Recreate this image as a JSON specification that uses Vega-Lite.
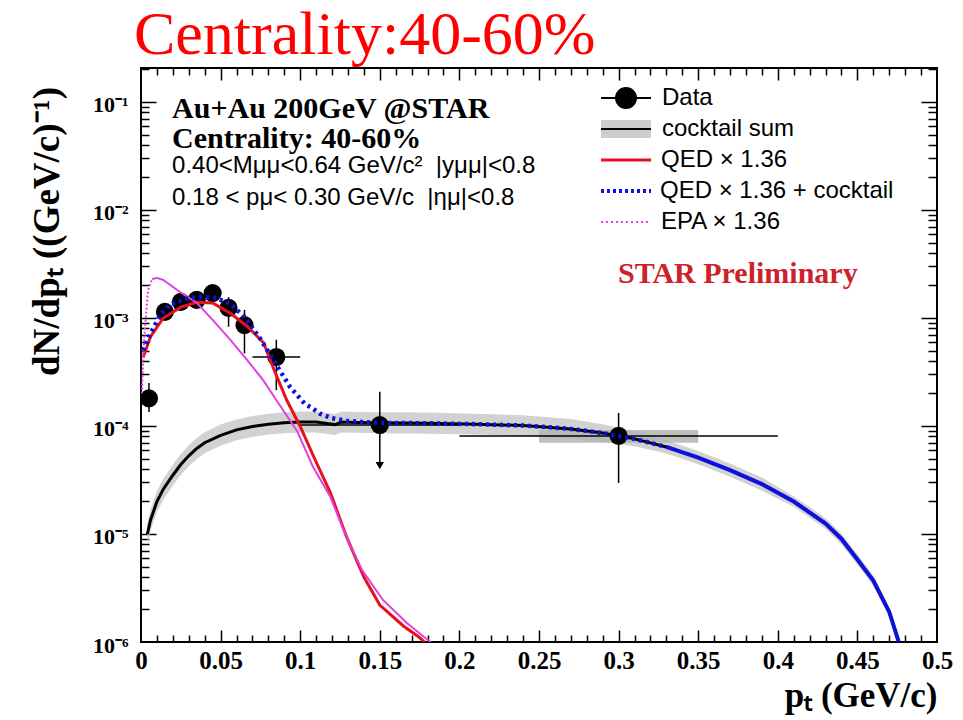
{
  "$schema": "https://vega.github.io/schema/vega-lite/v6.json",
  "width": 796,
  "height": 574,
  "autosize": "none",
  "padding": {"left": 141, "top": 68, "right": 26, "bottom": 78},
  "background": "white",
  "title": {"text": "Centrality:40-60%", "anchor": "start", "frame": "group", "font": "Liberation Serif", "fontSize": 62, "fontWeight": "normal", "color": "#ff0000", "offset": 4, "dx": -7, "dy": 53, "baseline": "alphabetic"},
  "config": {
    "view": {"stroke": "black", "strokeWidth": 2},
    "axis": {"domain": false, "grid": false, "labelFont": "Liberation Serif", "labelFontWeight": "bold", "labelColor": "black", "tickColor": "black", "tickWidth": 1.5, "titleFont": "Liberation Serif", "titleFontWeight": "bold", "titleColor": "black", "labelOverlap": false, "labelFlush": false},
    "legend": {"orient": "none", "title": null, "padding": 0, "labelFont": "Liberation Sans", "labelFontSize": 24, "labelColor": "black", "labelLimit": 0, "symbolSize": 400, "symbolOpacity": 1, "legendX": 473}
  },
  "datasets": {
    "curves": [
      {"s": "c", "pt": 0.004, "v": 1.0e-5, "lo": 8.0e-6, "hi": 1.25e-5},
      {"s": "c", "pt": 0.006, "v": 1.35e-5, "lo": 1.08e-5, "hi": 1.69e-5},
      {"s": "c", "pt": 0.010, "v": 2.0e-5, "lo": 1.6e-5, "hi": 2.5e-5},
      {"s": "c", "pt": 0.014, "v": 2.6e-5, "lo": 2.08e-5, "hi": 3.25e-5},
      {"s": "c", "pt": 0.020, "v": 3.5e-5, "lo": 2.8e-5, "hi": 4.38e-5},
      {"s": "c", "pt": 0.025, "v": 4.4e-5, "lo": 3.52e-5, "hi": 5.5e-5},
      {"s": "c", "pt": 0.030, "v": 5.3e-5, "lo": 4.24e-5, "hi": 6.63e-5},
      {"s": "c", "pt": 0.035, "v": 6.2e-5, "lo": 4.96e-5, "hi": 7.75e-5},
      {"s": "c", "pt": 0.040, "v": 7.0e-5, "lo": 5.6e-5, "hi": 8.75e-5},
      {"s": "c", "pt": 0.050, "v": 8.2e-5, "lo": 6.56e-5, "hi": 1.03e-4},
      {"s": "c", "pt": 0.060, "v": 9.2e-5, "lo": 7.36e-5, "hi": 1.15e-4},
      {"s": "c", "pt": 0.070, "v": 9.9e-5, "lo": 7.92e-5, "hi": 1.24e-4},
      {"s": "c", "pt": 0.080, "v": 1.04e-4, "lo": 8.32e-5, "hi": 1.3e-4},
      {"s": "c", "pt": 0.090, "v": 1.07e-4, "lo": 8.56e-5, "hi": 1.34e-4},
      {"s": "c", "pt": 0.100, "v": 1.09e-4, "lo": 8.72e-5, "hi": 1.36e-4},
      {"s": "c", "pt": 0.110, "v": 1.09e-4, "lo": 8.72e-5, "hi": 1.36e-4},
      {"s": "c", "pt": 0.118, "v": 1.05e-4, "lo": 8.4e-5, "hi": 1.31e-4},
      {"s": "c", "pt": 0.122, "v": 1.03e-4, "lo": 8.24e-5, "hi": 1.29e-4},
      {"s": "c", "pt": 0.126, "v": 1.09e-4, "lo": 8.7e-5, "hi": 1.36e-4},
      {"s": "c", "pt": 0.135, "v": 1.08e-4, "lo": 8.64e-5, "hi": 1.35e-4},
      {"s": "c", "pt": 0.15, "v": 1.07e-4, "lo": 8.56e-5, "hi": 1.34e-4},
      {"s": "c", "pt": 0.18, "v": 1.06e-4, "lo": 8.48e-5, "hi": 1.33e-4},
      {"s": "c", "pt": 0.21, "v": 1.04e-4, "lo": 8.32e-5, "hi": 1.3e-4},
      {"s": "c", "pt": 0.24, "v": 1.01e-4, "lo": 8.08e-5, "hi": 1.26e-4},
      {"s": "c", "pt": 0.27, "v": 9.4e-5, "lo": 7.6e-5, "hi": 1.16e-4},
      {"s": "c", "pt": 0.29, "v": 8.6e-5, "lo": 7.1e-5, "hi": 1.04e-4},
      {"s": "c", "pt": 0.31, "v": 7.6e-5, "lo": 6.5e-5, "hi": 8.9e-5},
      {"s": "c", "pt": 0.33, "v": 6.4e-5, "lo": 5.57e-5, "hi": 7.36e-5},
      {"s": "c", "pt": 0.35, "v": 5.1e-5, "lo": 4.43e-5, "hi": 5.87e-5},
      {"s": "c", "pt": 0.37, "v": 3.9e-5, "lo": 3.39e-5, "hi": 4.49e-5},
      {"s": "c", "pt": 0.39, "v": 2.9e-5, "lo": 2.52e-5, "hi": 3.34e-5},
      {"s": "c", "pt": 0.41, "v": 2.0e-5, "lo": 1.79e-5, "hi": 2.24e-5},
      {"s": "c", "pt": 0.43, "v": 1.25e-5, "lo": 1.12e-5, "hi": 1.4e-5},
      {"s": "c", "pt": 0.44, "v": 9.0e-6, "lo": 8.0e-6, "hi": 1.01e-5},
      {"s": "c", "pt": 0.45, "v": 5.8e-6, "lo": 5.2e-6, "hi": 6.5e-6},
      {"s": "c", "pt": 0.46, "v": 3.7e-6, "lo": 3.3e-6, "hi": 4.1e-6},
      {"s": "c", "pt": 0.47, "v": 1.9e-6, "lo": 1.7e-6, "hi": 2.1e-6},
      {"s": "c", "pt": 0.476, "v": 1.0e-6, "lo": 9.0e-7, "hi": 1.12e-6},

      {"s": "q", "pt": 0.0013, "v": 4.3e-4},
      {"s": "q", "pt": 0.006, "v": 6.7e-4},
      {"s": "q", "pt": 0.014, "v": 1.0e-3},
      {"s": "q", "pt": 0.025, "v": 1.26e-3},
      {"s": "q", "pt": 0.035, "v": 1.40e-3},
      {"s": "q", "pt": 0.045, "v": 1.38e-3},
      {"s": "q", "pt": 0.056, "v": 1.11e-3},
      {"s": "q", "pt": 0.067, "v": 8.3e-4},
      {"s": "q", "pt": 0.077, "v": 5.9e-4},
      {"s": "q", "pt": 0.084, "v": 3.2e-4},
      {"s": "q", "pt": 0.0915, "v": 1.74e-4},
      {"s": "q", "pt": 0.100, "v": 9.9e-5},
      {"s": "q", "pt": 0.109, "v": 5.0e-5},
      {"s": "q", "pt": 0.119, "v": 2.4e-5},
      {"s": "q", "pt": 0.129, "v": 9.5e-6},
      {"s": "q", "pt": 0.140, "v": 4.0e-6},
      {"s": "q", "pt": 0.150, "v": 2.2e-6},
      {"s": "q", "pt": 0.165, "v": 1.4e-6},
      {"s": "q", "pt": 0.175, "v": 1.1e-6},
      {"s": "q", "pt": 0.178, "v": 1.0e-6},

      {"s": "e", "pt": 0.0005, "v": 2.0e-4},
      {"s": "e", "pt": 0.002, "v": 6.5e-4},
      {"s": "e", "pt": 0.0044, "v": 1.8e-3},
      {"s": "e", "pt": 0.007, "v": 2.3e-3},
      {"s": "e", "pt": 0.010, "v": 2.35e-3},
      {"s": "e", "pt": 0.014, "v": 2.25e-3},
      {"s": "e", "pt": 0.0245, "v": 1.74e-3},
      {"s": "e", "pt": 0.035, "v": 1.38e-3},
      {"s": "e", "pt": 0.045, "v": 9.6e-4},
      {"s": "e", "pt": 0.056, "v": 6.3e-4},
      {"s": "e", "pt": 0.0666, "v": 4.1e-4},
      {"s": "e", "pt": 0.0766, "v": 2.67e-4},
      {"s": "e", "pt": 0.0873, "v": 1.55e-4},
      {"s": "e", "pt": 0.098, "v": 9.0e-5},
      {"s": "e", "pt": 0.108, "v": 4.2e-5},
      {"s": "e", "pt": 0.119, "v": 2.2e-5},
      {"s": "e", "pt": 0.129, "v": 9.4e-6},
      {"s": "e", "pt": 0.139, "v": 4.6e-6},
      {"s": "e", "pt": 0.152, "v": 2.45e-6},
      {"s": "e", "pt": 0.167, "v": 1.5e-6},
      {"s": "e", "pt": 0.180, "v": 1.05e-6},
      {"s": "e", "pt": 0.182, "v": 1.0e-6},

      {"s": "s", "pt": 0.0013, "v": 5.0e-4},
      {"s": "s", "pt": 0.0057, "v": 7.0e-4},
      {"s": "s", "pt": 0.012, "v": 1.07e-3},
      {"s": "s", "pt": 0.018, "v": 1.32e-3},
      {"s": "s", "pt": 0.0276, "v": 1.50e-3},
      {"s": "s", "pt": 0.037, "v": 1.57e-3},
      {"s": "s", "pt": 0.0465, "v": 1.54e-3},
      {"s": "s", "pt": 0.056, "v": 1.36e-3},
      {"s": "s", "pt": 0.065, "v": 1.02e-3},
      {"s": "s", "pt": 0.0747, "v": 6.5e-4},
      {"s": "s", "pt": 0.084, "v": 3.9e-4},
      {"s": "s", "pt": 0.0936, "v": 2.3e-4},
      {"s": "s", "pt": 0.103, "v": 1.6e-4},
      {"s": "s", "pt": 0.108, "v": 1.45e-4},
      {"s": "s", "pt": 0.1124, "v": 1.3e-4},
      {"s": "s", "pt": 0.12, "v": 1.18e-4},
      {"s": "s", "pt": 0.129, "v": 1.12e-4},
      {"s": "s", "pt": 0.1376, "v": 1.09e-4},
      {"s": "s", "pt": 0.15, "v": 1.07e-4},
      {"s": "s", "pt": 0.18, "v": 1.06e-4},
      {"s": "s", "pt": 0.21, "v": 1.04e-4},
      {"s": "s", "pt": 0.24, "v": 1.01e-4},
      {"s": "s", "pt": 0.27, "v": 9.4e-5},
      {"s": "s", "pt": 0.29, "v": 8.6e-5},
      {"s": "s", "pt": 0.31, "v": 7.6e-5},
      {"s": "s", "pt": 0.33, "v": 6.4e-5},
      {"s": "s", "pt": 0.35, "v": 5.1e-5},
      {"s": "s", "pt": 0.37, "v": 3.9e-5},
      {"s": "s", "pt": 0.39, "v": 2.9e-5},
      {"s": "s", "pt": 0.41, "v": 2.0e-5},
      {"s": "s", "pt": 0.43, "v": 1.25e-5},
      {"s": "s", "pt": 0.44, "v": 9.0e-6},
      {"s": "s", "pt": 0.45, "v": 5.8e-6},
      {"s": "s", "pt": 0.46, "v": 3.7e-6},
      {"s": "s", "pt": 0.47, "v": 1.9e-6},
      {"s": "s", "pt": 0.476, "v": 1.0e-6}
    ],
    "pts": [
      {"pt": 0.005, "v": 1.8e-4, "lo": 1.35e-4, "hi": 2.5e-4, "ptlo": 0.0, "pthi": 0.01},
      {"pt": 0.015, "v": 1.14e-3, "lo": 1.0e-3, "hi": 1.3e-3, "ptlo": 0.01, "pthi": 0.02},
      {"pt": 0.025, "v": 1.41e-3, "lo": 1.25e-3, "hi": 1.6e-3, "ptlo": 0.02, "pthi": 0.03},
      {"pt": 0.035, "v": 1.47e-3, "lo": 1.3e-3, "hi": 1.67e-3, "ptlo": 0.03, "pthi": 0.04},
      {"pt": 0.045, "v": 1.70e-3, "lo": 1.5e-3, "hi": 1.95e-3, "ptlo": 0.04, "pthi": 0.05},
      {"pt": 0.055, "v": 1.24e-3, "lo": 8.3e-4, "hi": 1.56e-3, "ptlo": 0.05, "pthi": 0.06},
      {"pt": 0.065, "v": 8.6e-4, "lo": 4.7e-4, "hi": 1.19e-3, "ptlo": 0.06, "pthi": 0.07},
      {"pt": 0.085, "v": 4.35e-4, "lo": 2.15e-4, "hi": 6.3e-4, "ptlo": 0.07, "pthi": 0.1},
      {"pt": 0.15, "v": 1.02e-4, "lo": 4.3e-5, "hi": 2.07e-4, "ptlo": 0.1, "pthi": 0.2, "ul": 4.3e-5},
      {"pt": 0.3, "v": 8.1e-5, "lo": 2.97e-5, "hi": 1.32e-4, "ptlo": 0.2, "pthi": 0.4}
    ],
    "sys": [
      {"pt1": 0.25, "pt2": 0.35, "v1": 7.0e-5, "v2": 9.2e-5}
    ]
  },
  "resolve": {"axis": {"x": "independent", "y": "independent"}, "scale": {"color": "independent"}, "legend": {"color": "independent"}},
  "layer": [
    {
      "data": {"name": "curves"},
      "transform": [{"filter": "datum.s === 'c'"}],
      "mark": {"type": "area", "opacity": 0.9, "clip": true},
      "encoding": {
        "x": {"field": "pt", "type": "quantitative", "scale": {"domain": [0, 0.5], "nice": false, "zero": false},
          "axis": {"orient": "bottom", "values": [0, 0.05, 0.1, 0.15, 0.2, 0.25, 0.3, 0.35, 0.4, 0.45, 0.5], "format": "~g", "ticks": false, "labelFontSize": 25, "labelPadding": 6,
            "title": "pₜ (GeV/c)", "titleFontSize": 35, "titleAlign": "right", "titleAnchor": "end", "titleBaseline": "alphabetic", "titleX": 796, "titleY": 64}},
        "y": {"field": "lo", "type": "quantitative", "scale": {"type": "log", "domain": [1e-6, 0.2064], "nice": false},
          "axis": {"orient": "left", "values": [1e-6, 1e-5, 1e-4, 1e-3, 1e-2, 1e-1], "ticks": false, "labelFontSize": 22, "labelPadding": 13, "labelOffset": 3,
            "labelExpr": "['10⁻¹','10⁻²','10⁻³','10⁻⁴','10⁻⁵','10⁻⁶'][round(-log(datum.value)/LN10)-1]",
            "title": "dN/dpₜ ((GeV/c)⁻¹)", "titleFontSize": 37, "titleAngle": -90, "titleAlign": "center", "titleBaseline": "middle", "titleX": -94, "titleY": 163}},
        "y2": {"field": "hi"},
        "color": {"datum": "cocktail sum", "type": "nominal", "scale": {"domain": ["cocktail sum"], "range": ["#cdcdcd"]},
          "legend": {"legendY": 49, "symbolType": "M-2.5,-0.9H2.5V0.9H-2.5Z", "symbolStrokeWidth": 0, "labelOffset": 26, "labelExpr": "''"}}
      }
    },
    {
      "data": {"name": "sys"},
      "mark": {"type": "rect", "color": "#b4b4b4", "opacity": 0.85, "clip": true},
      "encoding": {
        "x": {"field": "pt1", "type": "quantitative", "scale": {"domain": [0, 0.5], "nice": false, "zero": false},
          "axis": {"orient": "bottom", "values": [0.05, 0.1, 0.15, 0.2, 0.25, 0.3, 0.35, 0.4, 0.45], "labels": false, "tickSize": -12, "title": null}},
        "x2": {"field": "pt2"},
        "y": {"field": "v1", "type": "quantitative", "scale": {"type": "log", "domain": [1e-6, 0.2064], "nice": false},
          "axis": {"orient": "left", "values": [1e-5, 1e-4, 1e-3, 1e-2, 1e-1], "labels": false, "tickSize": -15, "title": null}},
        "y2": {"field": "v2"}
      }
    },
    {
      "data": {"name": "pts"},
      "mark": {"type": "rule", "color": "black", "strokeWidth": 1.5, "clip": true},
      "encoding": {
        "x": {"field": "pt", "type": "quantitative", "scale": {"domain": [0, 0.5], "nice": false, "zero": false},
          "axis": {"orient": "bottom", "values": [0.01, 0.02, 0.03, 0.04, 0.06, 0.07, 0.08, 0.09, 0.11, 0.12, 0.13, 0.14, 0.16, 0.17, 0.18, 0.19, 0.21, 0.22, 0.23, 0.24, 0.26, 0.27, 0.28, 0.29, 0.31, 0.32, 0.33, 0.34, 0.36, 0.37, 0.38, 0.39, 0.41, 0.42, 0.43, 0.44, 0.46, 0.47, 0.48, 0.49], "labels": false, "tickSize": -7, "title": null}},
        "y": {"field": "lo", "type": "quantitative", "scale": {"type": "log", "domain": [1e-6, 0.2064], "nice": false},
          "axis": {"orient": "left", "values": [2e-6, 3e-6, 4e-6, 5e-6, 6e-6, 7e-6, 8e-6, 9e-6, 2e-5, 3e-5, 4e-5, 5e-5, 6e-5, 7e-5, 8e-5, 9e-5, 2e-4, 3e-4, 4e-4, 5e-4, 6e-4, 7e-4, 8e-4, 9e-4, 2e-3, 3e-3, 4e-3, 5e-3, 6e-3, 7e-3, 8e-3, 9e-3, 2e-2, 3e-2, 4e-2, 5e-2, 6e-2, 7e-2, 8e-2, 9e-2, 0.2], "labels": false, "tickSize": -8, "title": null}},
        "y2": {"field": "hi"}
      }
    },
    {
      "data": {"name": "pts"},
      "mark": {"type": "rule", "color": "black", "strokeWidth": 1.5, "clip": true},
      "encoding": {
        "x": {"field": "ptlo", "type": "quantitative", "scale": {"domain": [0, 0.5], "nice": false, "zero": false},
          "axis": {"orient": "top", "values": [0.05, 0.1, 0.15, 0.2, 0.25, 0.3, 0.35, 0.4, 0.45], "labels": false, "tickSize": -12, "title": null}},
        "x2": {"field": "pthi"},
        "y": {"field": "v", "type": "quantitative", "scale": {"type": "log", "domain": [1e-6, 0.2064], "nice": false},
          "axis": {"orient": "right", "values": [1e-5, 1e-4, 1e-3, 1e-2, 1e-1], "labels": false, "tickSize": -16, "title": null}}
      }
    },
    {
      "data": {"name": "pts"},
      "transform": [{"filter": "isValid(datum.ul)"}],
      "mark": {"type": "point", "shape": "triangle-down", "filled": true, "color": "black", "size": 70, "opacity": 1, "clip": true},
      "encoding": {
        "x": {"field": "pt", "type": "quantitative", "scale": {"domain": [0, 0.5], "nice": false, "zero": false},
          "axis": {"orient": "top", "values": [0.01, 0.02, 0.03, 0.04, 0.06, 0.07, 0.08, 0.09, 0.11, 0.12, 0.13, 0.14, 0.16, 0.17, 0.18, 0.19, 0.21, 0.22, 0.23, 0.24, 0.26, 0.27, 0.28, 0.29, 0.31, 0.32, 0.33, 0.34, 0.36, 0.37, 0.38, 0.39, 0.41, 0.42, 0.43, 0.44, 0.46, 0.47, 0.48, 0.49], "labels": false, "tickSize": -7, "title": null}},
        "y": {"field": "ul", "type": "quantitative", "scale": {"type": "log", "domain": [1e-6, 0.2064], "nice": false},
          "axis": {"orient": "right", "values": [2e-6, 3e-6, 4e-6, 5e-6, 6e-6, 7e-6, 8e-6, 9e-6, 2e-5, 3e-5, 4e-5, 5e-5, 6e-5, 7e-5, 8e-5, 9e-5, 2e-4, 3e-4, 4e-4, 5e-4, 6e-4, 7e-4, 8e-4, 9e-4, 2e-3, 3e-3, 4e-3, 5e-3, 6e-3, 7e-3, 8e-3, 9e-3, 2e-2, 3e-2, 4e-2, 5e-2, 6e-2, 7e-2, 8e-2, 9e-2, 0.2], "labels": false, "tickSize": -9, "title": null}}
      }
    },
    {
      "data": {"name": "pts"},
      "mark": {"type": "point", "shape": "circle", "filled": true, "size": 330, "opacity": 1, "clip": true},
      "encoding": {
        "x": {"field": "pt", "type": "quantitative", "scale": {"domain": [0, 0.5], "nice": false, "zero": false}, "axis": null},
        "y": {"field": "v", "type": "quantitative", "scale": {"type": "log", "domain": [1e-6, 0.2064], "nice": false}, "axis": null},
        "color": {"datum": "Data", "type": "nominal", "scale": {"domain": ["Data"], "range": ["black"]},
          "legend": {"legendY": 18, "symbolType": "M-2.5,0H2.5M-1,0A1,1,0,1,0,1,0A1,1,0,1,0,-1,0", "symbolStrokeColor": "black", "symbolStrokeWidth": 2, "labelOffset": 24}}
      }
    },
    {
      "data": {"name": "curves"},
      "transform": [{"filter": "datum.s === 'c'"}],
      "mark": {"type": "line", "strokeWidth": 3, "clip": true},
      "encoding": {
        "x": {"field": "pt", "type": "quantitative", "scale": {"domain": [0, 0.5], "nice": false, "zero": false}, "axis": null},
        "y": {"field": "v", "type": "quantitative", "scale": {"type": "log", "domain": [1e-6, 0.2064], "nice": false}, "axis": null},
        "color": {"datum": "cocktail sum", "type": "nominal", "scale": {"domain": ["cocktail sum"], "range": ["black"]},
          "legend": {"legendY": 49, "symbolType": "M-2.5,0H2.5", "symbolStrokeWidth": 2, "labelOffset": 24}}
      }
    },
    {
      "data": {"name": "curves"},
      "transform": [{"filter": "datum.s === 'q'"}],
      "mark": {"type": "line", "strokeWidth": 3, "clip": true},
      "encoding": {
        "x": {"field": "pt", "type": "quantitative", "scale": {"domain": [0, 0.5], "nice": false, "zero": false}, "axis": null},
        "y": {"field": "v", "type": "quantitative", "scale": {"type": "log", "domain": [1e-6, 0.2064], "nice": false}, "axis": null},
        "color": {"datum": "QED × 1.36", "type": "nominal", "scale": {"domain": ["QED × 1.36"], "range": ["#e8101a"]},
          "legend": {"legendY": 80, "symbolType": "M-2.5,0H2.5", "symbolStrokeWidth": 3, "labelOffset": 23}}
      }
    },
    {
      "data": {"name": "curves"},
      "transform": [{"filter": "datum.s === 'e' && datum.pt <= 0.007"}],
      "mark": {"type": "line", "color": "#e040e0", "strokeWidth": 2, "strokeDash": [2, 2], "clip": true},
      "encoding": {
        "x": {"field": "pt", "type": "quantitative", "scale": {"domain": [0, 0.5], "nice": false, "zero": false}, "axis": null},
        "y": {"field": "v", "type": "quantitative", "scale": {"type": "log", "domain": [1e-6, 0.2064], "nice": false}, "axis": null}
      }
    },
    {
      "data": {"name": "curves"},
      "transform": [{"filter": "datum.s === 'e' && datum.pt >= 0.007"}],
      "mark": {"type": "line", "strokeWidth": 2, "clip": true},
      "encoding": {
        "x": {"field": "pt", "type": "quantitative", "scale": {"domain": [0, 0.5], "nice": false, "zero": false}, "axis": null},
        "y": {"field": "v", "type": "quantitative", "scale": {"type": "log", "domain": [1e-6, 0.2064], "nice": false}, "axis": null},
        "color": {"datum": "EPA × 1.36", "type": "nominal", "scale": {"domain": ["EPA × 1.36"], "range": ["#e040e0"]},
          "legend": {"legendY": 142, "symbolType": "M-2.5,0H2.5", "symbolStrokeWidth": 2, "symbolDash": [2, 3], "labelOffset": 23}}
      }
    },
    {
      "data": {"name": "curves"},
      "transform": [{"filter": "datum.s === 's' && datum.pt <= 0.33"}],
      "mark": {"type": "line", "strokeWidth": 4.5, "strokeDash": [3, 4], "clip": true},
      "encoding": {
        "x": {"field": "pt", "type": "quantitative", "scale": {"domain": [0, 0.5], "nice": false, "zero": false}, "axis": null},
        "y": {"field": "v", "type": "quantitative", "scale": {"type": "log", "domain": [1e-6, 0.2064], "nice": false}, "axis": null},
        "color": {"datum": "QED × 1.36 + cocktail", "type": "nominal", "scale": {"domain": ["QED × 1.36 + cocktail"], "range": ["#1010dd"]},
          "legend": {"legendY": 111, "symbolType": "M-2.5,0H2.5", "symbolStrokeWidth": 4, "symbolDash": [3, 3], "labelOffset": 22}}
      }
    },
    {
      "data": {"name": "curves"},
      "transform": [{"filter": "datum.s === 's' && datum.pt >= 0.33"}],
      "mark": {"type": "line", "color": "#1010dd", "strokeWidth": 4, "clip": true},
      "encoding": {
        "x": {"field": "pt", "type": "quantitative", "scale": {"domain": [0, 0.5], "nice": false, "zero": false}, "axis": null},
        "y": {"field": "v", "type": "quantitative", "scale": {"type": "log", "domain": [1e-6, 0.2064], "nice": false}, "axis": null}
      }
    },
    {
      "data": {"values": [{}]},
      "mark": {"type": "text", "align": "left", "baseline": "alphabetic", "font": "Liberation Serif", "fontWeight": "bold", "fontSize": 30, "lineHeight": 30, "color": "black", "text": ["Au+Au 200GeV @STAR", "Centrality: 40-60%"]},
      "encoding": {
        "x": {"datum": 0.0195, "type": "quantitative", "scale": {"domain": [0, 0.5], "nice": false, "zero": false}, "axis": null},
        "y": {"datum": 0.0711, "type": "quantitative", "scale": {"type": "log", "domain": [1e-6, 0.2064], "nice": false}, "axis": null}
      }
    },
    {
      "data": {"values": [{}]},
      "mark": {"type": "text", "align": "left", "baseline": "alphabetic", "font": "Liberation Sans", "fontSize": 24, "lineHeight": 32, "color": "black", "text": ["0.40<Mμμ<0.64 GeV/c²\u00a0\u00a0|yμμ|<0.8", "0.18 < pμ< 0.30 GeV/c\u00a0\u00a0|ημ|<0.8"]},
      "encoding": {
        "x": {"datum": 0.0195, "type": "quantitative", "scale": {"domain": [0, 0.5], "nice": false, "zero": false}, "axis": null},
        "y": {"datum": 0.022, "type": "quantitative", "scale": {"type": "log", "domain": [1e-6, 0.2064], "nice": false}, "axis": null}
      }
    },
    {
      "data": {"values": [{}]},
      "mark": {"type": "text", "align": "left", "baseline": "alphabetic", "font": "Liberation Serif", "fontWeight": "bold", "fontSize": 30, "color": "#cc2229", "text": "STAR Preliminary"},
      "encoding": {
        "x": {"datum": 0.2996, "type": "quantitative", "scale": {"domain": [0, 0.5], "nice": false, "zero": false}, "axis": null},
        "y": {"datum": 0.00211, "type": "quantitative", "scale": {"type": "log", "domain": [1e-6, 0.2064], "nice": false}, "axis": null}
      }
    }
  ]
}
